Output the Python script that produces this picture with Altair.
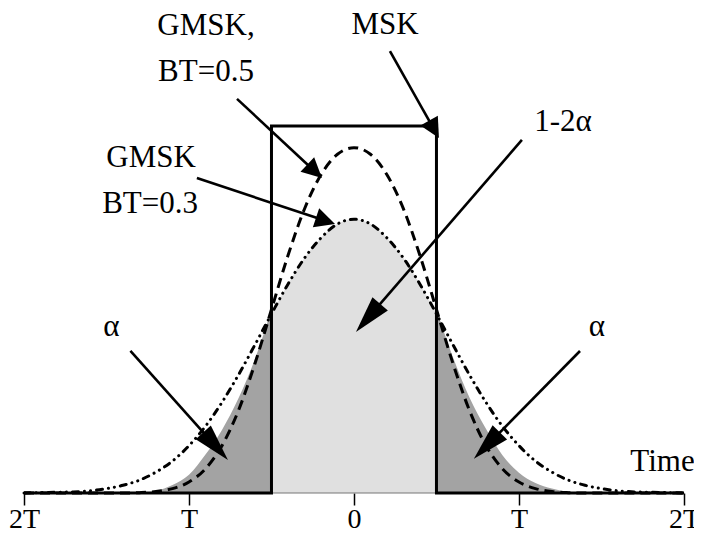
import math
import altair as alt
import pandas as pd

# ---------------- data ----------------
t_grid = [-2.0, -1.9, -1.8, -1.7, -1.6, -1.5, -1.4, -1.3, -1.2, -1.1, -1.0,
          -0.9, -0.8, -0.7, -0.6, -0.5, -0.4, -0.3, -0.2, -0.1, 0.0,
          0.1, 0.2, 0.3, 0.4, 0.5, 0.6, 0.7, 0.8, 0.9, 1.0,
          1.1, 1.2, 1.3, 1.4, 1.5, 1.6, 1.7, 1.8, 1.9, 2.0]
gmsk_bt05 = [0.0, 0.0, 0.0, 0.0, 0.0, 0.0, 0.0, 0.001, 0.004, 0.012, 0.03,
             0.066, 0.129, 0.225, 0.353, 0.5, 0.647, 0.774, 0.867, 0.923, 0.941,
             0.923, 0.867, 0.774, 0.647, 0.5, 0.353, 0.225, 0.129, 0.066, 0.03,
             0.012, 0.004, 0.001, 0.0, 0.0, 0.0, 0.0, 0.0, 0.0, 0.0]
gmsk_bt03 = [0.0, 0.001, 0.002, 0.003, 0.006, 0.012, 0.021, 0.035, 0.057, 0.087, 0.129,
             0.182, 0.247, 0.322, 0.404, 0.488, 0.569, 0.640, 0.695, 0.733, 0.746,
             0.733, 0.695, 0.640, 0.569, 0.488, 0.404, 0.322, 0.247, 0.182, 0.129,
             0.087, 0.057, 0.035, 0.021, 0.012, 0.006, 0.003, 0.002, 0.001, 0.0]
msk_t = [-2.0, -0.5, -0.5, 0.5, 0.5, 2.0]
msk_y = [0.0, 0.0, 1.0, 1.0, 0.0, 0.0]
tail_left_t = [-1.3, -1.2, -1.1, -1.0, -0.9, -0.8, -0.7, -0.6, -0.5]
tail_left_y = [0.0, 0.006, 0.022, 0.05, 0.105, 0.172, 0.258, 0.365, 0.5]
tail_right_t = [0.5, 0.6, 0.7, 0.8, 0.9, 1.0, 1.1, 1.2, 1.3, 1.4]
tail_right_y = [0.5, 0.37, 0.26, 0.175, 0.103, 0.055, 0.027, 0.012, 0.003, 0.0]
tick_values = [-2, -1, 0, 1, 2]
tick_labels = ["2T", "T", "0", "T", "2T"]

label_text = ["GMSK,", "BT=0.5", "MSK", "GMSK", "BT=0.3", "1-2α", "α", "α", "Time"]
label_x = [-0.897, -0.897, 0.188, -1.230, -1.236, 1.267, -1.470, 1.473, 1.870]
label_y = [1.272, 1.147, 1.276, 0.914, 0.787, 1.011, 0.451, 0.451, 0.0845]

arrow_x1 = [0.218, -0.709, -0.952, 1.018, -1.355, 1.370]
arrow_y1 = [1.204, 1.074, 0.858, 0.962, 0.387, 0.387]
arrow_x2 = [0.515, -0.194, -0.115, 0.012, -0.764, 0.727]
arrow_y2 = [0.967, 0.858, 0.733, 0.439, 0.090, 0.093]
arrow_kind = ["small", "small", "small", "big", "big", "big"]

# ---------------- layout ----------------
W, H = 686, 485
XMIN, XMAX = -2.097, 2.061
YMIN, YMAX = 0.0, 1.3215
PX_X = W / (XMAX - XMIN)
PX_Y = H / (YMAX - YMIN)
FONT = "Liberation Serif"

xscale = alt.Scale(domain=[XMIN, XMAX], nice=False, zero=False)
yscale = alt.Scale(domain=[YMIN, YMAX], nice=False, zero=False)

label_expr = ""
for v, l in zip(tick_values, tick_labels):
    label_expr += f"datum.value == {v} ? '{l}' : "
label_expr += "''"

xaxis = alt.Axis(values=tick_values, labelExpr=label_expr, tickSize=12, tickWidth=1.5,
                 tickColor="black", domain=False, grid=False, labelFont=FONT,
                 labelFontSize=28, labelColor="black", labelPadding=0, title=None,
                 labelFlush=False, labelOverlap=False)


def X(field, **kw):
    return alt.X(field, type="quantitative", scale=xscale, axis=xaxis, **kw)


def Y(field):
    return alt.Y(field, type="quantitative", scale=yscale, axis=None, stack=None)


curves = pd.DataFrame({"t": t_grid, "bt05": gmsk_bt05, "bt03": gmsk_bt03})
center = curves[(curves.t >= -0.5) & (curves.t <= 0.5)]
left_tail = pd.DataFrame({"t": tail_left_t, "y": tail_left_y})
right_tail = pd.DataFrame({"t": tail_right_t, "y": tail_right_y})
msk = pd.DataFrame({"t": msk_t, "y": msk_y, "i": list(range(len(msk_t)))})
labels = pd.DataFrame({"text": label_text, "x": label_x, "y": label_y})

# arrows geometry
head = {"small": (20.0, "M0,0L1,2L-1,2Z", 400),
        "big": (37.0, "M0,0L0.55,2L-0.55,2Z", 37.0 ** 2)}
rows = []
for x1, y1, x2, y2, k in zip(arrow_x1, arrow_y1, arrow_x2, arrow_y2, arrow_kind):
    dxp = (x2 - x1) * PX_X
    dyp = -(y2 - y1) * PX_Y
    L = math.hypot(dxp, dyp)
    ux, uy = dxp / L, dyp / L
    hl, shape, size = head[k]
    back = 0.5 * hl
    ang = math.degrees(math.atan2(dxp, -dyp)) % 360
    rows.append({"x1": x1, "y1": y1, "x2": x2, "y2": y2,
                 "xe": x2 - ux * back / PX_X, "ye": y2 + uy * back / PX_Y,
                 "angle": ang, "shape": shape, "size": size})
arrows = pd.DataFrame(rows)

base = alt.Chart(curves)

center_area = alt.Chart(center).mark_area(color="#e0e0e0", interpolate="monotone").encode(
    x=X("t"), y=Y("bt03"))
left_area = alt.Chart(left_tail).mark_area(color="#a3a3a3", interpolate="monotone").encode(
    x=X("t"), y=Y("y"))
right_area = alt.Chart(right_tail).mark_area(color="#a3a3a3", interpolate="monotone").encode(
    x=X("t"), y=Y("y"))
baseline = alt.Chart(pd.DataFrame({"a": [-0.5], "b": [0.5], "y": [0.0]})).mark_rule(
    color="#777777", strokeWidth=1).encode(x=X("a"), x2="b", y=Y("y"))
line05 = base.mark_line(color="black", strokeWidth=3, strokeDash=[10, 6],
                        interpolate="monotone").encode(x=X("t"), y=Y("bt05"))
line03 = base.mark_line(color="black", strokeWidth=3, strokeCap="round",
                        strokeDash=[6, 6, 0.1, 6, 0.1, 6],
                        interpolate="monotone").encode(x=X("t"), y=Y("bt03"))
msk_line = alt.Chart(msk).mark_line(color="black", strokeWidth=3, strokeJoin="miter").encode(
    x=X("t"), y=Y("y"), order="i:Q")
arrow_lines = alt.Chart(arrows).mark_rule(color="black", strokeWidth=2.6).encode(
    x=X("x1"), y=Y("y1"), x2="xe", y2="ye")
arrow_heads = alt.Chart(arrows).mark_point(filled=True, opacity=1, color="black",
                                           strokeWidth=0).encode(
    x=X("x2"), y=Y("y2"),
    shape=alt.Shape("shape:N", scale=None),
    size=alt.Size("size:Q", scale=None),
    angle=alt.Angle("angle:Q", scale=None))
texts = alt.Chart(labels).mark_text(font=FONT, fontSize=31, color="black",
                                    align="center", baseline="middle").encode(
    x=X("x"), y=Y("y"), text="text:N")

chart = alt.layer(center_area, left_area, right_area, baseline, line05, line03, msk_line,
                  arrow_lines, arrow_heads, texts).properties(
    width=W, height=H, autosize="none",
    padding={"left": 0, "top": 0, "right": 0, "bottom": 43},
).configure_view(stroke=None)

chart.save("out.html", embed_options={"renderer": "svg", "actions": False})
